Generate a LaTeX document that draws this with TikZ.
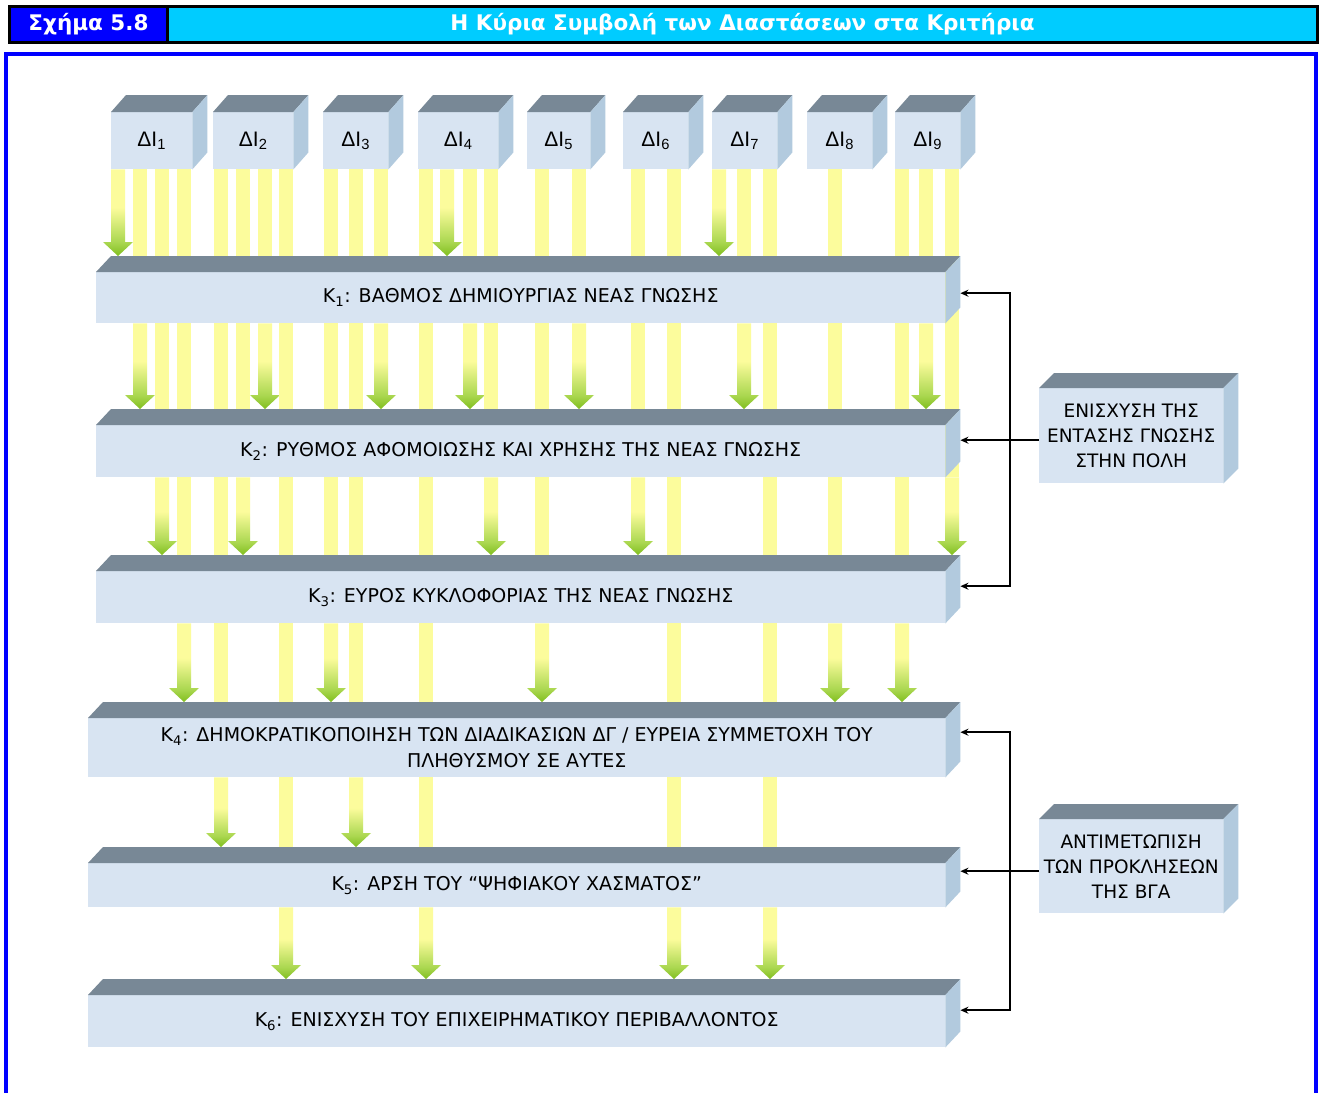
\documentclass[tikz,border=0pt]{standalone}
\usepackage{fontspec}
\setmainfont{DejaVu Sans}
\newfontfamily\arialf{Liberation Sans}
\usetikzlibrary{arrows.meta}
\definecolor{topgray}{RGB}{120,136,150}
\definecolor{frontblue}{RGB}{216,228,242}
\definecolor{sideblue}{RGB}{178,202,222}
\definecolor{barY}{RGB}{252,252,156}
\definecolor{arrG}{RGB}{128,190,30}
\definecolor{arrGl}{RGB}{170,215,80}
\definecolor{hdrblue}{RGB}{0,0,255}
\definecolor{hdrcyan}{RGB}{0,204,255}
\pgfdeclareverticalshading{arrsh}{100bp}{color(0bp)=(arrG); color(25bp)=(arrG); color(33bp)=(arrGl); color(53bp)=(barY); color(100bp)=(barY)}
\pgfdeclarelayer{back}
\pgfdeclarelayer{bars}
\pgfsetlayers{back,bars,main}
\begin{document}
\begin{tikzpicture}[x=1pt,y=-1pt,
  frontface/.style={fill=frontblue, inner sep=0pt, anchor=north west, align=center, font=\fontsize{19}{26}\selectfont},
  topf/.style={fill=topgray},
  sidef/.style={fill=sideblue},
  barf/.style={fill=barY},
  conn/.style={line width=2.2pt, black},
  hdr/.style={draw=black, line width=3pt, minimum height=36pt, anchor=north west, inner sep=0pt, text=white, font=\bfseries\fontsize{21.5}{24}\selectfont}]
\begin{pgfonlayer}{back}
\fill[white] (0,0) rectangle (1319,1092);
\end{pgfonlayer}
\useasboundingbox (0,0) rectangle (1319,1092);
% header
\node[hdr, fill=hdrcyan, minimum width=1150pt] (hdrR) at (166,5) {Η Κύρια Συμβολή των Διαστάσεων στα Κριτήρια};
\node[hdr, fill=hdrblue, minimum width=158pt] (hdrL) at (8,5) {Σχήμα 5.8};
% frame
\draw[hdrblue, line width=4.5pt] (6,1110) -- (6,54) -- (1316,54) -- (1316,1110);
% cubes
\foreach \n/\x/\w in {1/111/81,2/213/80,3/323/65,4/418/80,5/527/63,6/623/65,7/712/65,8/807/65,9/895/65}{
  \node[frontface, minimum width=\w pt, minimum height=57pt, font=\arialf\fontsize{21}{24}\selectfont] (D\n) at (\x,112) {ΔI\textsubscript{\n}};
  \fill[topf] (D\n.north west) -- ++(15,-17) -- ([shift={(15,-17)}]D\n.north east) -- (D\n.north east) -- cycle;
  \fill[sidef] (D\n.north east) -- ++(15,-17) -- ([shift={(15,-17)}]D\n.south east) -- (D\n.south east) -- cycle;
}
% layers
\node[frontface, minimum width=849pt, minimum height=51pt] (K1) at (96,272) {K\textsubscript{1}: ΒΑΘΜΟΣ ΔΗΜΙΟΥΡΓΙΑΣ ΝΕΑΣ ΓΝΩΣΗΣ};
\node[frontface, minimum width=849pt, minimum height=52pt] (K2) at (96,425) {K\textsubscript{2}: ΡΥΘΜΟΣ ΑΦΟΜΟΙΩΣΗΣ ΚΑΙ ΧΡΗΣΗΣ ΤΗΣ ΝΕΑΣ ΓΝΩΣΗΣ};
\node[frontface, minimum width=849pt, minimum height=52pt] (K3) at (96,571) {K\textsubscript{3}: ΕΥΡΟΣ ΚΥΚΛΟΦΟΡΙΑΣ ΤΗΣ ΝΕΑΣ ΓΝΩΣΗΣ};
\node[frontface, minimum width=857pt, minimum height=59pt] (K4) at (88,718) {K\textsubscript{4}: ΔΗΜΟΚΡΑΤΙΚΟΠΟΙΗΣΗ ΤΩΝ ΔΙΑΔΙΚΑΣΙΩΝ ΔΓ / ΕΥΡΕΙΑ ΣΥΜΜΕΤΟΧΗ ΤΟΥ\\ΠΛΗΘΥΣΜΟΥ ΣΕ ΑΥΤΕΣ};
\node[frontface, minimum width=857pt, minimum height=44pt] (K5) at (88,863) {K\textsubscript{5}: ΑΡΣΗ ΤΟΥ “ΨΗΦΙΑΚΟΥ ΧΑΣΜΑΤΟΣ”};
\node[frontface, minimum width=857pt, minimum height=52pt] (K6) at (88,995) {K\textsubscript{6}: ΕΝΙΣΧΥΣΗ ΤΟΥ ΕΠΙΧΕΙΡΗΜΑΤΙΚΟΥ ΠΕΡΙΒΑΛΛΟΝΤΟΣ};
\foreach \n/\d in {1/4.5,2/11,3/11,4/15.5,5/14,6/11}{
  \fill[topf] (K\n.north west) -- ++(15,-16) -- ([shift={(15,-16)}]K\n.north east) -- (K\n.north east) -- cycle;
  \fill[sidef] (K\n.north east) -- ++(15,-16) -- ([shift={(15,-16)}]K\n.south east) -- (K\n.south east) -- cycle;
  \coordinate (T\n) at ([yshift=16pt]K\n.north);
  \coordinate (R\n) at ([xshift=15pt,yshift=\d pt]K\n.east);
}
% side boxes
\node[frontface, minimum width=184pt, minimum height=95pt, font=\fontsize{18.5}{25}\selectfont] (B1) at (1039,388) {ΕΝΙΣΧΥΣΗ ΤΗΣ\\ΕΝΤΑΣΗΣ ΓΝΩΣΗΣ\\ΣΤΗΝ ΠΟΛΗ};
\node[frontface, minimum width=184pt, minimum height=94pt, font=\fontsize{18.5}{25}\selectfont] (B2) at (1039,819) {ΑΝΤΙΜΕΤΩΠΙΣΗ\\ΤΩΝ ΠΡΟΚΛΗΣΕΩΝ\\ΤΗΣ ΒΓΑ};
\foreach \n in {1,2}{
  \fill[topf] (B\n.north west) -- ++(15,-15) -- ([shift={(15,-15)}]B\n.north east) -- (B\n.north east) -- cycle;
  \fill[sidef] (B\n.north east) -- ++(15,-15) -- ([shift={(15,-15)}]B\n.south east) -- (B\n.south east) -- cycle;
}
% connectors from side boxes
\coordinate (bx) at (1010,0);
\draw[conn, {Stealth[length=8pt,width=7pt]}-{Stealth[length=8pt,width=7pt]}] (R1) -- (R1 -| bx) -- (R3 -| bx) -- (R3);
\draw[conn, -{Stealth[length=8pt,width=7pt]}] (R2 -| B1.west) -- (R2);
\draw[conn, {Stealth[length=8pt,width=7pt]}-{Stealth[length=8pt,width=7pt]}] (R4) -- (R4 -| bx) -- (R6 -| bx) -- (R6);
\draw[conn, -{Stealth[length=8pt,width=7pt]}] (R5 -| B2.west) -- (R5);
% bars and arrows
\begin{pgfonlayer}{bars}
\foreach \x/\s/\e in {118/1/1,140/1/2,162/1/3,184/1/4,221/2/5,243/2/3,265/2/2,286/2/6,331/3/4,356/3/5,381/3/2,426/4/6,447/4/1,470/4/2,491/4/3,542/5/4,579/5/2,638/6/3,674/6/6,719/7/1,744/7/2,770/7/6,835/8/4,902/9/4,926/9/2,952/9/3}{
  \pgfmathtruncatemacro\pe{\e-1}
  \ifnum\e>1
    \coordinate (a) at (D\s.south -| \x,0);
    \coordinate (b) at (K\pe.south -| \x,0);
    \fill[barf] ([xshift=-7pt]a) rectangle ([xshift=7pt]b);
    \coordinate (a) at (K\pe.south -| \x,0);
  \else
    \coordinate (a) at (D\s.south -| \x,0);
  \fi
  \coordinate (b) at (T\e -| \x,0);
  \shade[shading=arrsh] ([xshift=-7pt]a) -- ([xshift=-7pt,yshift=14pt]b) -- ([xshift=-15pt,yshift=14pt]b) -- (b) -- ([xshift=15pt,yshift=14pt]b) -- ([xshift=7pt,yshift=14pt]b) -- ([xshift=7pt]a) -- cycle;
}
\end{pgfonlayer}
\end{tikzpicture}
\end{document}
